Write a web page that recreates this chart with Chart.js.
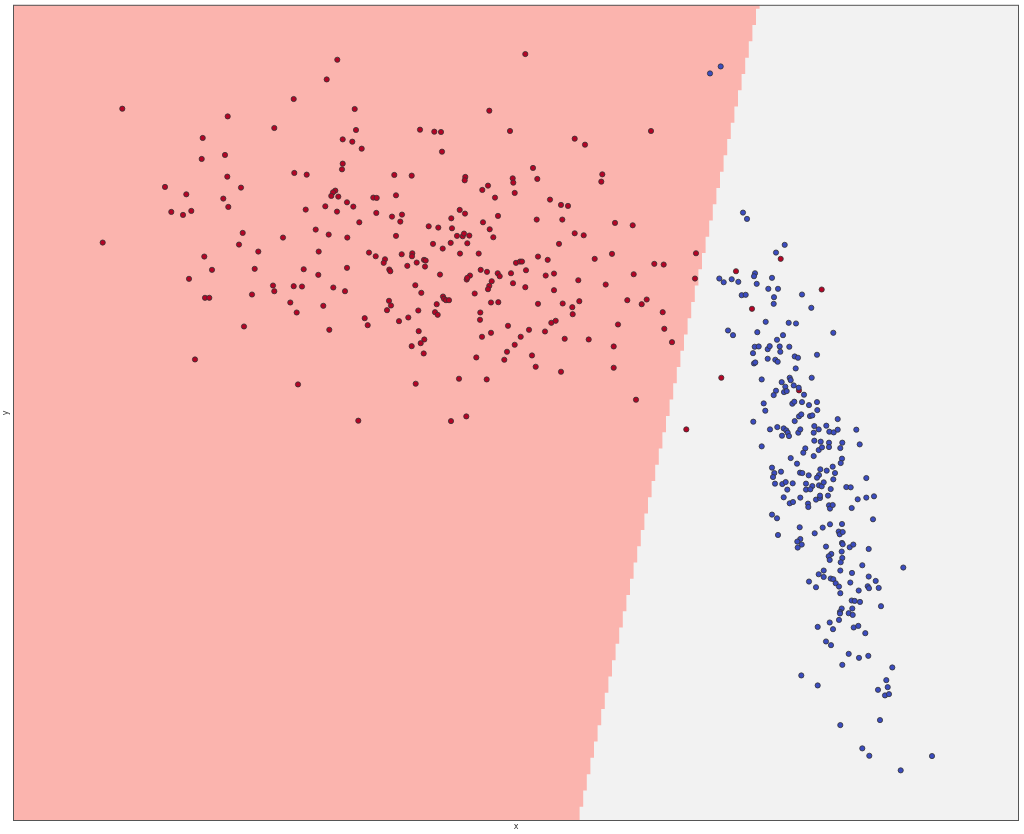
<!DOCTYPE html>
<html>
<head>
<meta charset="utf-8">
<script src="https://cdn.jsdelivr.net/npm/chart.js"></script>
<style>
  html, body { margin: 0; padding: 0; background: #ffffff; }
  #wrap { width: 1024px; height: 834px; }
</style>
</head>
<body>
<div id="wrap"><canvas id="chart" width="1024" height="834"></canvas></div>
<script>
// ── DATA ───────────────────────────────────────────────────────
// Plot units: x runs 0..1006, y runs 0..817 (no ticks shown on the original)

// class 0 (dark red points)
const redPts = [
  [324.3,762],[313.7,742.3],[280.7,722.7],[109.3,713],[341.7,712.7],[214.7,705.3],[261.3,693.7],[343,691.7],[407,692],[189.7,683.7],
  [329.7,682.3],[339.3,680],[348.7,673],[188.7,662.7],[212,666.7],[329.7,658],[329,652.3],[281.3,648.7],[293.7,647],[214.3,645],
  [381.3,646.7],[398.7,646],[152,634.7],[228,634],[173.3,627.3],[210.3,623],[215.3,614.7],[158.3,609.7],[170,606.7],[178.3,610.7],
  [322.3,631],[320,629.3],[318.3,625.7],[325.3,625],[334,619.3],[312.3,615.3],[340.3,615],[324,610],[360.3,624],[363.7,623.7],
  [383,626.3],[292.7,612],[346.3,599.3],[363.3,608.7],[379,605],[389,607],[387.3,600],[302.7,592],[315.7,587],[229.7,588.7],
  [270,584],[334.3,584],[383,585.7],
  [512.3,767.7],[476.3,711],[421.3,690],[428,689.7],[497,690.7],[638,690.7],[561.7,683],[572,677],[429,670],[520,653.7],
  [452.3,644.7],[451.7,641.3],[499.7,643.3],[500.3,639],[524.3,642.7],[589.3,647.3],[588.3,640],[475,636],[469.3,631.7],[501.7,628.7],
  [482,624],[537,622],[548,616.7],[555,615.7],[446.7,611.7],[452,608],[438.3,603.3],[485,605.7],[470,599.3],[523.7,602],
  [549.3,602],[602,598.7],[619.7,596.3],[415.7,595.3],[425.3,594],[439,593.3],[476.7,592.3],[444,585.7],[449.7,585.3],[451,588],
  [456.3,586],[480.3,584.3],[561.7,588.3],[570.7,586.3],
  [89.7,579],[226,577],[245.3,570],[305.7,570],[191.3,565],[356,569],[362.7,565.3],[372,562.3],[370.7,558.7],[388.7,567.3],
  [394.3,555.7],[199,551.7],[241.7,552.7],[290.7,552.3],[305.3,546.7],[334,553.7],[376.3,552],[377.3,550.3],[176,542.7],[260,536],
  [261.3,530.3],[280.7,535.3],[289,535],[320.3,534],[332,530.3],[239,527],[192,523.7],[196.3,523.7],[277.3,519],[310.3,515.7],
  [376,520.7],[378,516],[374,511.3],[283.7,509],[351.7,503.3],[354.7,496.3],[386,500.3],[395.3,504],[231,495],[316.3,491.7],
  [182,462],[285,437],[345.3,400.7],
  [420,577.7],[437.7,578.7],[454.3,578.3],[546,577.7],[429.7,573],[399.3,568.3],[399,565.3],[447,568],[465.7,568],[525,565],
  [534.7,561.7],[581.7,562.7],[599,567.7],[683,568.3],[403.7,559],[411,561.7],[412.7,561],[412,555],[503,558.7],[507,560],
  [509,560],[641.3,557.7],[650.7,557],[467.7,551.7],[474,549.7],[513,551.3],[427,547],[457,546],[453.7,542],[454.3,543.7],
  [484.7,548.3],[486.7,545.3],[498,548.3],[532.7,546],[541,548],[620.7,547.3],[682,543],[402.3,536.3],[478.7,540.3],[476.3,535.7],
  [475,532.3],[500,538.3],[512.3,534.3],[565.3,541.3],[592.7,537],[541,531.3],[408.3,528.7],[461.7,528],[430,525],[431,522.7],
  [433,521.3],[436,521.3],[423.7,517.3],[478,519],[485.3,519.3],[525,517.7],[549.7,518],[566.3,520.3],[559.3,514.3],[559.7,507.3],
  [614.3,521.3],[628.7,517.3],[633.7,522],[649.7,509.3],[405.3,511],[422,509.3],[424.7,506.7],[467.3,509],[467,501.7],[538.3,498.7],
  [542.7,500.7],[605,497],[495,495.7],[651.3,492.7],[405.7,490.3],[516,491.7],[532,490],[478,488.7],[469,484.7],[507.7,484.7],
  [551.7,482.7],[575.7,482],[659,479.3],[411.3,482],[407.7,478.3],[398.7,475.3],[501.7,476.7],[600.7,475],[410.7,468],[494,469.7],
  [463.3,464],[491.3,461.7],[519,466],[522.7,454.7],[600.7,453.7],[548,449.7],[446,442.7],[473.7,442],[402.7,437.7],[623,421.7],
  [453.3,405],[438,400.3],[673.3,392],
  [767.7,562.7],[723,550.3],[808.7,532],[739,512.7],[708.3,443.7],[786,431]
];

// class 1 (dark blue points)
const bluePts = [
  [707.7,755.3],[697,748.3],[730,609],[734,602.7],
  [771.7,576.7],[763,569],[742,548.3],[741,545.3],[706.3,543],[710.7,539.3],[718.7,542.3],[725.3,539.7],[759,543.7],[743.7,537.7],
  [755.3,532.7],[765,532.7],[728.7,526.3],[732.7,526.7],[761,524.3],[789,527],[760.7,517.7],[798.3,513.7],[752.7,499.7],[775.7,498.7],
  [783,498],[715,491],[720,486.3],[744.3,489.3],[820.3,488.7],[764,481.7],[770,486.3],[741.7,474.7],[745.7,475],[754.7,472.3],
  [756.7,475.3],[766.7,475],[776.3,474.7],[740,468.3],[767.3,469.7],[781.7,465],[785,463.7],[804,466.7],[754.7,462.7],[762.3,461.7],
  [764.7,459.7],[741,458],[742.3,459],[782.7,453],[748.7,442],[776.7,443.7],[777.7,441.3],[768.7,439.3],[798.7,443.7],[772.3,434.7],
  [780.7,436],[785.7,433.7],[763,430.7],[771,429.3],[773.7,430.3],[760.7,426.3],[791,426.7],
  [750.7,418],[752.3,410.7],[779.3,417.7],[781.3,419.7],[789,419.3],[796,416.3],[804,419.3],[804.3,411.3],[740.3,399.7],[786,405],
  [788.3,407],[781.7,400.3],[797,405.3],[799.3,406],[824.7,402.3],[757,392],[764.3,394.3],[770.7,393],[773.3,391],[774.7,388.7],
  [776,385.3],[769,385.7],[785.3,388.7],[787.3,392],[801.3,395.3],[800.7,388.7],[805.7,392],[813.3,395.7],[816.3,389.7],[820.7,389],
  [824.7,391.7],[843.3,391.7],[801.3,380.7],[807.7,379.7],[816,378.7],[829.3,378.7],[846.7,377],[748.7,375],[792.3,373],[790.3,368.7],
  [805.7,371.3],[809,374],[816,374.3],[827.3,373.3],[800.7,365.3],[777.7,363.3],[784,357.7],[829,362.7],[827.7,358.3],[759,353.7],
  [768,349.7],[761.3,348.3],[760,344.3],[787,348.7],[789.3,348.3],[795.7,346],[807.3,352],[813.7,350.7],[819.7,354.7],[822,348.3],
  [806,346.3],[804,343.7],[820.3,342],[853.3,343.3],[762,337.7],[769.3,337.3],[772.7,339.3],[779.7,338],[793,337.7],[799.3,335.3],
  [806,336],[808.7,335],[810.7,339],[774.3,331.7],[793,331.7],[797.3,332],[817.7,332.3],[833.3,334.3],[837.7,334],[770.7,324],
  [787.3,323.7],[776.7,318],[780,319.3],[795,317.7],[795.3,314.3],[803,321.7],[807,323.3],[807,325.7],[815,325.7],[816,316],
  [817,312.7],[819.7,316.3],[838.7,313.3],[844.7,322],[853.3,323.7],[861,325],[759,306.7],[764,303],[860,302],[765,286.3],
  [786.7,294],[809.7,293.7],[817,297],[829,297.3],[801.7,288],[825.7,289.7],[826.7,287],[829.7,289.3],[787.3,282.3],[784.3,279.7],
  [788.7,276.7],[784.7,273.7],[813,274.7],[829,278.3],[829.7,277],[836.7,274],[840.3,276.7],[855.7,272.3],[818.3,267.3],[815.7,265],
  [816.7,261.3],[828.7,269.7],[829.3,263.3],[827.7,259],[849.3,256],[890.3,253.7],[810.7,250.7],[805.7,247],[827.3,250.7],[839,248.3],
  [855.7,244.7],[796,239.7],[810.7,244.3],[817.7,242.7],[820.3,242],[822.7,238],[826,234.7],[837.3,238.7],[862.7,240.3],[803,234],
  [854.7,235],[856,233],[865.7,233.3],
  [845.7,230.7],[827.3,228],[838.7,220.7],[841.7,220.3],[847,219.3],[868,215],[828.7,212.7],[827,209.3],[827,207.7],[835.7,208],
  [839.3,212.7],[839.7,206.3],[826,201.3],[816.7,198.7],[804.7,194.3],[820,192],[840.7,193.7],[845.3,195.3],[852.3,188],[813,179.7],
  [818,176],[835.7,167.3],[846,163.3],[855.3,165.3],[829.3,156.3],[879.3,153.7],[788.3,145.7],[804.7,135.7],[873.3,141],[874.7,134],
  [865,131.3],[872,125.7],[876,127],[827.3,96],[867,101],[849.3,72.7],[856.3,65.3],[919,65],[887.7,50.7]
];

// decision boundary: one step per mesh row, read from the staircase
// stepTop = upper edge of each row, stepX = where the red region ends in that row
const stepTop = [
  817, 813, 796.7, 780.4, 764.1, 747.8, 731.5, 715.2, 698.9, 682.6, 666.3,
  650, 633.7, 617.4, 601.1, 584.8, 568.5, 552.2, 535.9, 519.6, 503.3,
  487, 470.7, 454.4, 438.1, 421.8, 405.5, 389.2, 372.9, 356.6, 340.3,
  324, 307.7, 291.4, 275.1, 258.8, 242.5, 226.2, 209.9, 193.6, 177.3,
  161, 144.7, 128.4, 112.1, 95.8, 79.5, 63.2, 46.9, 30.6, 14.3
];
const stepX = [
  746.6, 743.0, 739.4, 735.8, 732.2, 728.6, 725.0, 721.4, 717.8, 714.2, 710.6,
  707.0, 703.4, 699.8, 696.2, 692.6, 689.0, 685.4, 681.8, 678.2, 674.6,
  671.0, 667.4, 663.8, 660.2, 656.6, 653.0, 649.4, 645.8, 642.2, 638.6,
  635.0, 631.4, 627.8, 624.2, 620.6, 617.0, 613.4, 609.8, 606.2, 602.6,
  599.0, 595.4, 591.8, 588.2, 584.6, 581.0, 577.4, 573.8, 570.2, 566.6
];

const xRange = [0, 1006];
const yRange = [0, 817];

// ── BUILD THE RED REGION (closed staircase polygon) ────────────
const region = [{ x: xRange[0], y: yRange[1] }];
stepX.forEach((sx, i) => {
  const bottom = i + 1 < stepTop.length ? stepTop[i + 1] : yRange[0];
  region.push({ x: sx, y: stepTop[i] });
  region.push({ x: sx, y: bottom });
});
region.push({ x: xRange[0], y: yRange[0] });

// gray background behind the plot and thin frame round it
const plotFrame = {
  id: 'plotFrame',
  beforeDraw(chart) {
    const { ctx, chartArea: a } = chart;
    ctx.save();
    ctx.fillStyle = '#f2f2f2';
    ctx.fillRect(a.left, a.top, a.right - a.left, a.bottom - a.top);
    ctx.restore();
  },
  afterDraw(chart) {
    const { ctx, chartArea: a } = chart;
    ctx.save();
    ctx.strokeStyle = '#555555';
    ctx.lineWidth = 1;
    ctx.strokeRect(a.left + 0.5, a.top + 0.5, a.right - a.left - 1, a.bottom - a.top - 1);
    ctx.restore();
  }
};

const toXY = p => ({ x: p[0], y: p[1] });

new Chart(document.getElementById('chart'), {
  type: 'scatter',
  data: {
    datasets: [
      {
        type: 'line',
        data: region,
        showLine: true,
        fill: 'shape',
        backgroundColor: '#fbb4ae',
        borderWidth: 0,
        pointRadius: 0,
        tension: 0,
        order: 3
      },
      {
        data: redPts.map(toXY),
        backgroundColor: '#b40426',
        borderColor: '#333333',
        borderWidth: 0.8,
        pointRadius: 2.6,
        order: 2
      },
      {
        data: bluePts.map(toXY),
        backgroundColor: '#3b4cc0',
        borderColor: '#333333',
        borderWidth: 0.8,
        pointRadius: 2.6,
        order: 1
      }
    ]
  },
  options: {
    responsive: false,
    animation: false,
    layout: { padding: { top: 4, right: 5, left: 0, bottom: 0 } },
    plugins: {
      legend: { display: false },
      tooltip: { enabled: false }
    },
    scales: {
      x: {
        type: 'linear',
        min: xRange[0],
        max: xRange[1],
        grid: { display: false, drawTicks: false },
        border: { display: false },
        ticks: { display: false },
        title: {
          display: true,
          text: 'x',
          color: '#333333',
          font: { family: 'DejaVu Sans', size: 8, lineHeight: 1.25 },
          padding: { top: 1, bottom: 2 }
        }
      },
      y: {
        type: 'linear',
        min: yRange[0],
        max: yRange[1],
        grid: { display: false, drawTicks: false },
        border: { display: false },
        ticks: { display: false },
        title: {
          display: true,
          text: 'y',
          color: '#333333',
          font: { family: 'DejaVu Sans', size: 8, lineHeight: 1.25 },
          padding: { top: 1, bottom: 2 }
        }
      }
    }
  },
  plugins: [plotFrame]
});
</script>
</body>
</html>
